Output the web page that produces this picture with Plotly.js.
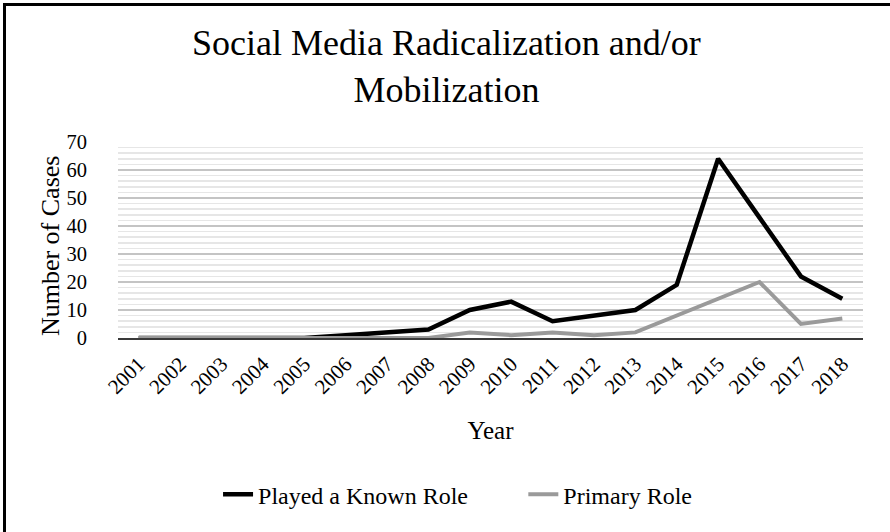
<!DOCTYPE html>
<html>
<head>
<meta charset="utf-8">
<script src="https://cdn.plot.ly/plotly-3.0.1.min.js"></script>
<style>
  html, body { margin: 0; padding: 0; background: #fff; }
  #wrap { position: relative; width: 890px; height: 532px; overflow: hidden; }
  #chart { position: absolute; left: 0; top: 0; width: 890px; height: 532px; }
  #frame {
    position: absolute; left: 3px; top: 3px; width: 900px; height: 527px;
    border-top: 3px solid #000; border-left: 3px solid #000;
    border-bottom: 2px solid #d4d4d4; pointer-events: none;
  }
</style>
</head>
<body>
<div id="wrap">
  <div id="chart"></div>
  <div id="frame"></div>
</div>
<script>
// Case counts per year
const years = ['2001','2002','2003','2004','2005','2006','2007','2008','2009',
               '2010','2011','2012','2013','2014','2015','2016','2017','2018'];
const playedKnownRole = [0,0,0,0,0,1,2,3,10,13,6,8,10,19,64,43,22,14];
const primaryRole     = [0,0,0,0,0,0,0,0,2,1,2,1,2,8,14,20,5,7];

const chartTitle = 'Social Media Radicalization and/or<br>Mobilization';
const yTitle = 'Number of Cases';
const xTitle = 'Year';

const serif = 'Liberation Serif, Times New Roman, serif';

const traces = [
  {
    x: years, y: playedKnownRole, type: 'scatter', mode: 'lines',
    name: 'Played a Known Role', legend: 'legend',
    line: { color: '#000000', width: 4.5 }
  },
  {
    x: years, y: primaryRole, type: 'scatter', mode: 'lines',
    name: 'Primary Role', legend: 'legend2',
    line: { color: '#9a9a9a', width: 4 }
  }
];

const legendFont = { family: serif, size: 24, color: '#000' };

const layout = {
  width: 890, height: 532,
  margin: { l: 118, r: 27, t: 142, b: 194 },
  paper_bgcolor: '#ffffff', plot_bgcolor: '#ffffff',
  font: { family: serif, color: '#000', size: 20 },
  xaxis: {
    type: 'category',
    range: [-0.5, 17.5],
    tickangle: -45,
    tickfont: { family: serif, size: 21, color: '#000' },
    ticks: 'outside', ticklen: 4, tickcolor: 'rgba(0,0,0,0)',
    showgrid: false, zeroline: false,
    showline: true, linecolor: '#3a3a3a', linewidth: 1.5,
    title: { text: xTitle, font: { family: serif, size: 25, color: '#000' }, standoff: 23 }
  },
  yaxis: {
    range: [0, 70],
    dtick: 10, tick0: 0,
    tickfont: { family: serif, size: 20.5, color: '#000' },
    ticks: 'outside', ticklen: 26, tickcolor: 'rgba(0,0,0,0)',
    showgrid: true, gridcolor: '#c4c4c4', gridwidth: 1.5,
    minor: { dtick: 2, showgrid: true, gridcolor: '#e6e6e6', gridwidth: 1.5 },
    zeroline: false, showline: false
  },
  annotations: [
    {
      text: chartTitle, showarrow: false,
      xref: 'paper', yref: 'paper',
      x: 0.4416, xanchor: 'center',
      y: 1.383, yanchor: 'middle',
      font: { family: serif, size: 36, color: '#000' }
    },
    {
      text: yTitle, showarrow: false, textangle: -90,
      xref: 'paper', yref: 'paper',
      x: -0.0913, xanchor: 'center',
      y: 0.474, yanchor: 'middle',
      font: { family: serif, size: 26, color: '#000' }
    }
  ],
  showlegend: true,
  legend: {
    orientation: 'h', xref: 'container', yref: 'container',
    x: 0.245, xanchor: 'left', y: 0.07, yanchor: 'middle',
    font: legendFont, bgcolor: 'rgba(0,0,0,0)'
  },
  legend2: {
    orientation: 'h', xref: 'container', yref: 'container',
    x: 0.588, xanchor: 'left', y: 0.07, yanchor: 'middle',
    font: legendFont, bgcolor: 'rgba(0,0,0,0)'
  }
};

Plotly.newPlot('chart', traces, layout, { staticPlot: true, displayModeBar: false });
</script>
</body>
</html>
